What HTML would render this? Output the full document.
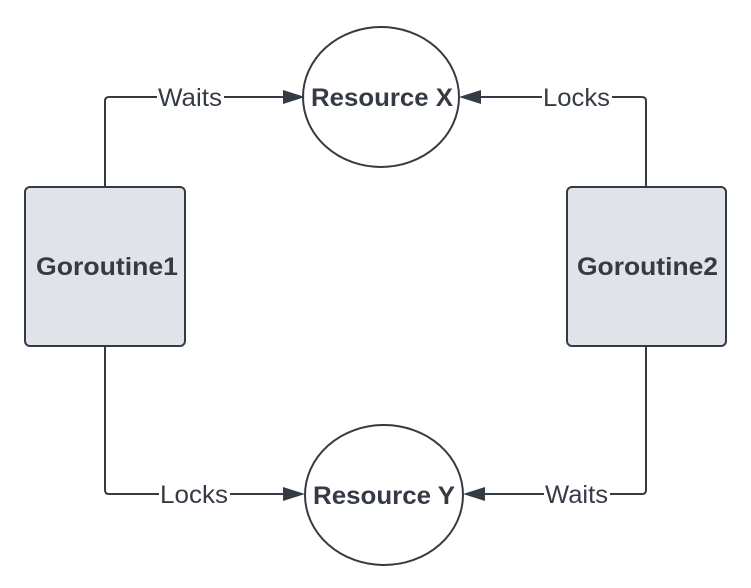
<!DOCTYPE html>
<html><head><meta charset="utf-8"><style>
html,body{margin:0;padding:0;background:#fff;}
svg{display:block;}
text{font-family:"Liberation Sans",Arial,sans-serif;fill:#353b45;}
</style></head><body>
<svg width="751" height="588" viewBox="0 0 751 588" xmlns="http://www.w3.org/2000/svg">
<g stroke="#353b45" stroke-width="2" fill="none">
<path d="M105 187 V101 Q105 97 109 97 H286"/>
<path d="M646 187 V101 Q646 97 642 97 H478"/>
<path d="M105 346 V490 Q105 494 109 494 H286"/>
<path d="M646 346 V490 Q646 494 642 494 H480"/>
<ellipse cx="381" cy="97" rx="78" ry="70"/>
<ellipse cx="384" cy="495" rx="79" ry="70"/>
</g>
<g fill="#353b45">
<polygon points="305,97 283,90 283,104"/>
<polygon points="459,97 481,90 481,104"/>
<polygon points="305,494 283,487 283,501"/>
<polygon points="463,494 485,487 485,501"/>
</g>
<rect x="25" y="187" width="160" height="159" rx="5" fill="#e0e3e8" stroke="#353b45" stroke-width="2"/>
<rect x="567" y="187" width="159" height="159" rx="5" fill="#e0e3e8" stroke="#353b45" stroke-width="2"/>
<g font-size="25">
<rect x="157" y="83" width="67" height="28" fill="#fff"/>
<text x="158" y="106" textLength="64" lengthAdjust="spacingAndGlyphs">Waits</text>
<rect x="542" y="83" width="70" height="28" fill="#fff"/>
<text x="543" y="106" textLength="67" lengthAdjust="spacingAndGlyphs">Locks</text>
<rect x="159" y="480" width="71" height="28" fill="#fff"/>
<text x="160" y="503" textLength="68" lengthAdjust="spacingAndGlyphs">Locks</text>
<rect x="544" y="480" width="66" height="28" fill="#fff"/>
<text x="545" y="503" textLength="63" lengthAdjust="spacingAndGlyphs">Waits</text>
</g>
<g font-size="25" font-weight="bold">
<text x="311" y="106" textLength="142" lengthAdjust="spacingAndGlyphs">Resource X</text>
<text x="313" y="504" textLength="142" lengthAdjust="spacingAndGlyphs">Resource Y</text>
<text x="36" y="275" textLength="142" lengthAdjust="spacingAndGlyphs">Goroutine1</text>
<text x="577" y="275" textLength="141" lengthAdjust="spacingAndGlyphs">Goroutine2</text>
</g>
</svg>
</body></html>
